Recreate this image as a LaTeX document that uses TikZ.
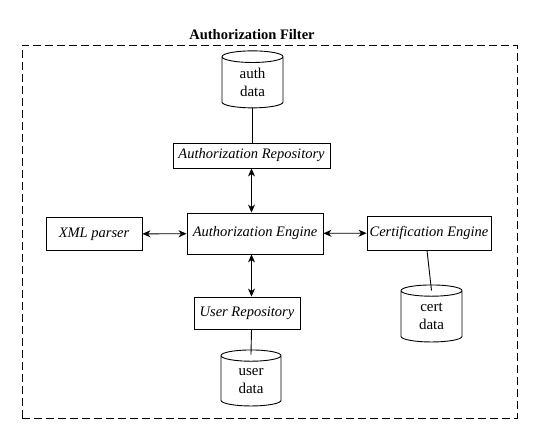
\documentclass[tikz,border=0pt]{standalone}
\usepackage{fontspec}
\setmainfont{Liberation Serif}
\usepackage{tikz}
\usetikzlibrary{shapes.geometric,arrows.meta}

\begin{document}
\begin{tikzpicture}[x=1pt,y=-1pt,inner sep=0pt,
  box/.style={fill=white, draw, line width=0.9pt, shape=rectangle, font=\itshape\fontsize{14.5}{17}\selectfont},
  store/.style={shape=cylinder, shape border rotate=90, aspect=0.45, fill=white, draw, line width=0.9pt, minimum width=61pt, minimum height=57pt, align=center, font=\fontsize{15}{18}\selectfont},
  link/.style={{Stealth[length=8pt,width=7pt,inset=2.5pt]}-{Stealth[length=8pt,width=7pt,inset=2.5pt]}, line width=0.9pt, draw}]
\useasboundingbox (0,0) rectangle (554,441);
\node (frame) [minimum height=373pt, minimum width=495pt, at={(269.5,231.5)}, draw, line width=0.9pt, dash pattern=on 8pt off 4pt, shape=rectangle] {};
\node (title) [at={(252,35)}, font=\bfseries\fontsize{14.5}{17}\selectfont] {Authorization Filter};
\node (authdb) [store, at={(252.5,82.5)}] {auth\\data};
\node (authrepo) [box, minimum height=25pt, minimum width=157pt, at={(251.5,155.5)}] {Authorization Repository};
\node (engine) [box, minimum height=41pt, minimum width=136pt, at={(255,233.5)}] {Authorization Engine};
\node (xml) [box, minimum height=33pt, minimum width=96pt, at={(94,234)}] {XML parser};
\node (cert) [box, minimum height=34pt, minimum width=124pt, at={(429,233)}] {Certification Engine};
\node (certdb) [store, at={(431.5,316.5)}] {cert\\data};
\node (userrepo) [box, minimum height=32pt, minimum width=106pt, at={(247,313)}] {User Repository};
\node (userdb) [store, minimum width=60pt, minimum height=56pt, at={(251,381)}] {user\\data};
\coordinate (certlid) at ([yshift=-6pt]certdb.north);
\coordinate (userlid) at ([yshift=-5pt]userdb.north);

\path [line width=0.9pt,draw](authdb.south)--(authdb.south |- authrepo.north);
\path [line width=0.9pt,draw]([xshift=-2pt]cert.south)--(certlid);
\path [line width=0.9pt,draw](userrepo.south -| authrepo.south)--(userlid);

\path [link](authrepo.south)--(authrepo.south |- engine.north);
\path [link](engine.south -| authrepo.south)--(userrepo.north -| authrepo.south);
\path [link](xml)--(engine);
\path [link](engine)--(cert);
\end{tikzpicture}
\end{document}
